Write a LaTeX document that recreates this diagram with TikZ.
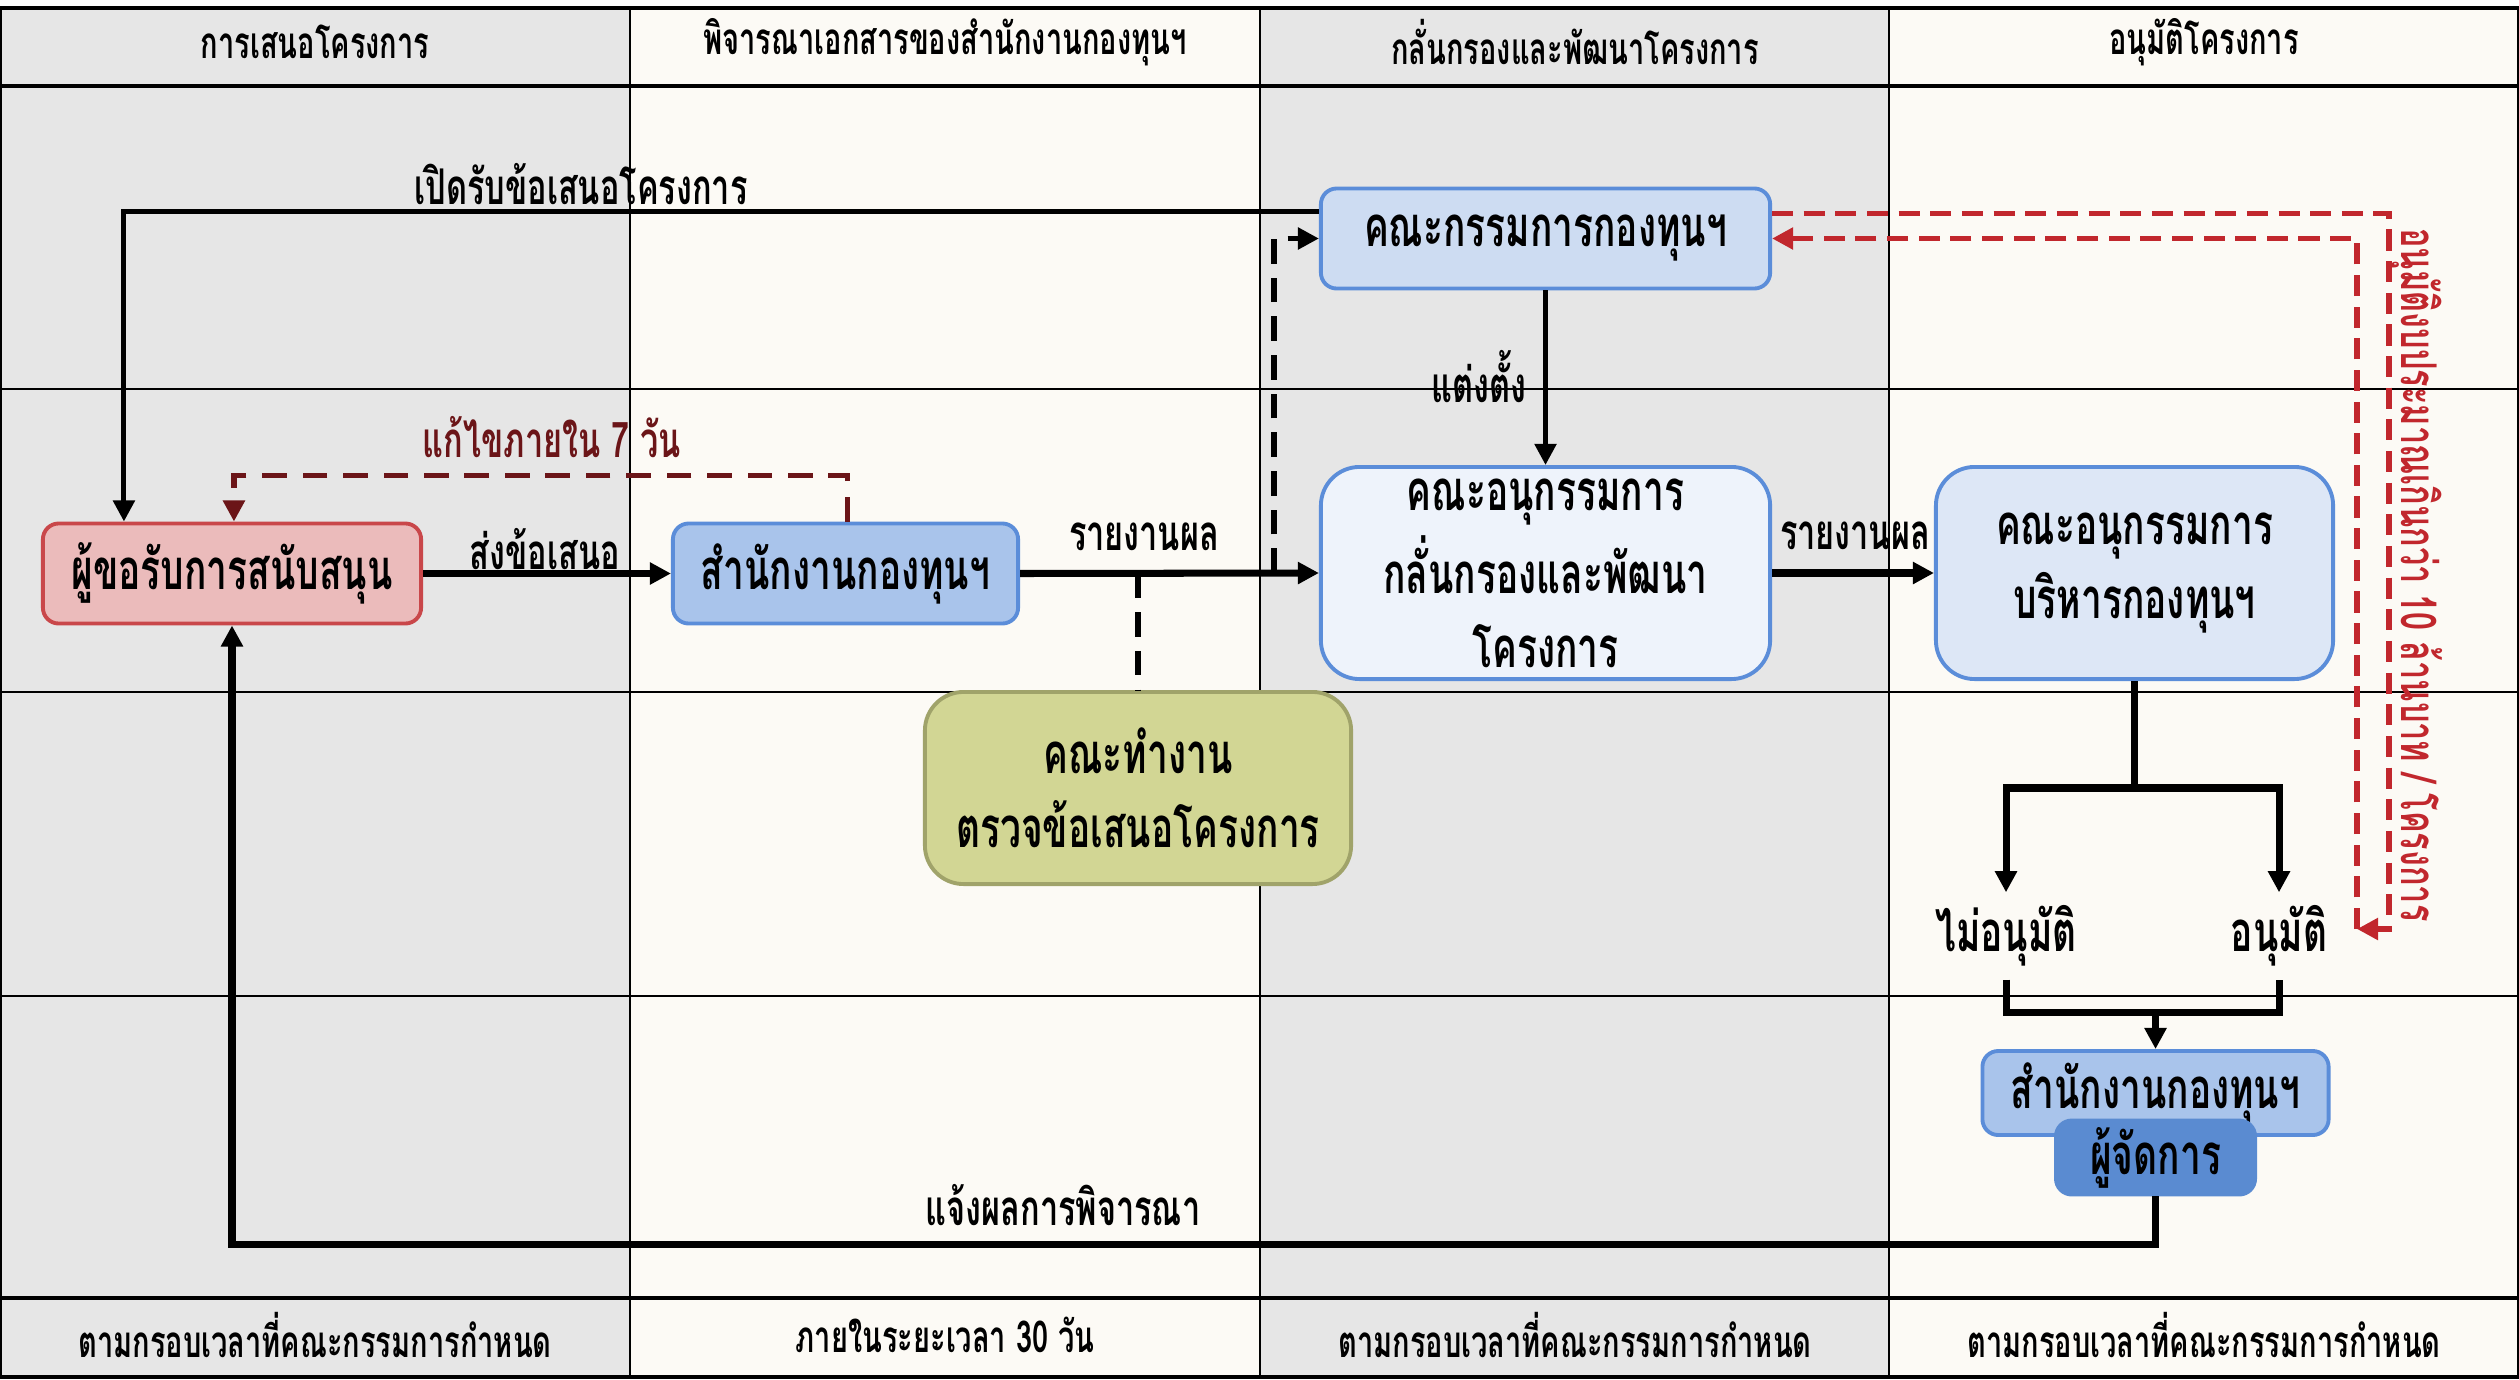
\documentclass[tikz,border=0pt]{standalone}
\usepackage{fontspec}
\setmainfont[Script=Thai, FakeStretch=0.66]{Loma}
\usetikzlibrary{arrows.meta,calc}
\definecolor{bggray}{HTML}{E6E6E6}
\definecolor{bgcream}{HTML}{FCFAF5}
\definecolor{reqfill}{HTML}{EBBBBB}
\definecolor{reqdraw}{HTML}{C9474A}
\definecolor{offfill}{HTML}{A9C4EB}
\definecolor{offdraw}{HTML}{5B8DD9}
\definecolor{comfill}{HTML}{CDDCF2}
\definecolor{subfillA}{HTML}{EEF3FB}
\definecolor{subfillB}{HTML}{DDE7F6}
\definecolor{workfill}{HTML}{D2D694}
\definecolor{workdraw}{HTML}{A0A36A}
\definecolor{mgrfill}{HTML}{5A8BD1}
\definecolor{redline}{HTML}{C1272D}
\definecolor{darkred}{HTML}{6B1518}
\tikzset{
  box/.style={draw, line width=1.1pt, align=center, inner sep=0pt, font=\bfseries\fontsize{16}{19}\selectfont},
  smallbox/.style={box, rounded corners=4.5pt},
  bigbox/.style={box, rounded corners=11pt},
  lbl/.style={font=\bfseries\fontsize{14}{17}\selectfont, inner sep=0pt},
  hdr/.style={font=\bfseries\fontsize{12.5}{14}\selectfont, inner sep=0pt},
  tip/.style={-{Triangle[length=6pt,width=6pt]}},
  flow/.style={line width=2pt},
  thinflow/.style={line width=1.4pt},
  blkdash/.style={line width=1.6pt, dash pattern=on 7pt off 4pt},
  fixdash/.style={line width=1.6pt, dash pattern=on 7pt off 4.5pt, draw=darkred},
  reddash/.style={line width=1.6pt, dash pattern=on 6pt off 3pt, draw=redline},
  grid/.style={line width=0.7pt},
}
\begin{document}
\begin{tikzpicture}[x=0.01cm, y=-0.01cm]
\useasboundingbox (0,0) rectangle (2519,1379);
% lane backgrounds
\fill[bggray] (0,8) rectangle (630,1377);
\fill[bgcream] (630,8) rectangle (1260,1377);
\fill[bggray] (1260,8) rectangle (1889,1377);
\fill[bgcream] (1889,8) rectangle (2519,1377);
% grid
\foreach \yy in {389,692,996} \draw[grid] (0,\yy) -- (2519,\yy);
\draw[line width=1.1pt] (0,86) -- (2519,86);
\draw[line width=1.1pt] (0,1298) -- (2519,1298);
\foreach \xx in {630,1260,1889} \draw[grid] (\xx,8) -- (\xx,1377);
\draw[line width=1.3pt] (0,8) rectangle (2519,1377);
% headers
\node[hdr] (h1) at (315,42) {การเสนอโครงการ};
\node[hdr] (h2) at (945,42) {พิจารณาเอกสารของสำนักงานกองทุนฯ};
\node[hdr] (h3) at (1575,42) {กลั่นกรองและพัฒนาโครงการ};
\node[hdr] (h4) at (2204,42) {อนุมัติโครงการ};
% footers
\node[hdr] (f1) at (315,1335) {ตามกรอบเวลาที่คณะกรรมการกำหนด};
\node[hdr] (f2) at (945,1335) {ภายในระยะเวลา 30 วัน};
\node[hdr] (f3) at (1575,1335) {ตามกรอบเวลาที่คณะกรรมการกำหนด};
\node[hdr] (f4) at (2204,1335) {ตามกรอบเวลาที่คณะกรรมการกำหนด};
% nodes
\node[smallbox, fill=reqfill, draw=reqdraw, minimum width=3.78cm, minimum height=1cm] (req) at (232,573.5) {ผู้ขอรับการสนับสนุน};
\node[smallbox, fill=offfill, draw=offdraw, minimum width=3.45cm, minimum height=1cm] (off1) at (845.5,573.5) {สำนักงานกองทุนฯ};
\node[smallbox, fill=comfill, draw=offdraw, minimum width=4.49cm, minimum height=1cm] (comm) at (1545.5,238.5) {คณะกรรมการกองทุนฯ};
\node[bigbox, fill=subfillA, draw=offdraw, minimum width=4.49cm, minimum height=2.12cm] (sub1) at (1545.5,573) {คณะอนุกรรมการ\\[2pt]กลั่นกรองและพัฒนา\\[2pt]โครงการ};
\node[bigbox, fill=subfillB, draw=offdraw, minimum width=3.97cm, minimum height=2.12cm] (sub2) at (2134.5,573) {คณะอนุกรรมการ\\[2pt]บริหารกองทุนฯ};
\node[bigbox, fill=workfill, draw=workdraw, minimum width=4.26cm, minimum height=1.92cm] (work) at (1138,788) {คณะทำงาน\\[2pt]ตรวจข้อเสนอโครงการ};
\node[smallbox, fill=offfill, draw=offdraw, minimum width=3.46cm, minimum height=0.84cm] (off2) at (2155.5,1093) {\raisebox{4pt}{สำนักงานกองทุนฯ}};
\node[smallbox, fill=mgrfill, draw=mgrfill, minimum width=1.99cm, minimum height=0.74cm] (mgr) at (2155.5,1157.5) {ผู้จัดการ};
% decision labels
\node[lbl, font=\bfseries\fontsize{16}{19}\selectfont, minimum height=0.86cm] (no) at (2006,936) {ไม่อนุมัติ};
\node[lbl, font=\bfseries\fontsize{16}{19}\selectfont, minimum height=0.86cm] (yes) at (2279,936) {อนุมัติ};
% connector labels
\node[lbl] (lopen) at (581,184) {เปิดรับข้อเสนอโครงการ};
\node[lbl, text=darkred] (lfix) at (552,437) {แก้ไขภายใน 7 วัน};
\node[lbl] (lsend) at (545,549) {ส่งข้อเสนอ};
\node[lbl] (lrep1) at (1144,537) {รายงานผล};
\node[lbl] (lapp) at (1479,377) {แต่งตั้ง};
\node[lbl] (lrep2) at (1855,536) {รายงานผล};
\node[lbl] (lnotify) at (1063,1205) {แจ้งผลการพิจารณา};
\node[lbl, text=redline, rotate=-90] (lbudget) at (2416,575) {อนุมัติงบประมาณเกินกว่า 10 ล้านบาท / โครงการ};
% connectors
\draw[thinflow, tip] ($(comm.west)+(0,-27)$) -| ($(req.north west)+(83,0)$);
\draw[fixdash, tip] ($(off1.north)+(2,0)$) -- ++(0,-46) -| ($(req.north west)+(193,0)$);
\draw[flow, tip] (req.east) -- (off1.west);
\draw[flow, tip] (off1.east) -- (sub1.west);
\draw[blkdash] (work.north |- off1.east) -- (work.north);
\coordinate (split) at ($(sub1.west)+(-45,0)$);
\draw[blkdash, tip] (split) |- (comm.west);
\draw[thinflow, tip] (comm.south) -- (sub1.north);
\draw[flow, tip] (sub1.east) -- (sub2.west);
\coordinate (branch) at ($(sub2.south)+(0,107)$);
\draw[flow] (sub2.south) -- (branch);
\draw[flow, tip] (branch) -| (no.north);
\draw[flow, tip] (branch) -| (yes.north);
\coordinate (merge) at ($(off2.north)+(0,-37)$);
\draw[flow] (no.south) |- (merge) -| (yes.south);
\draw[flow, tip] (merge) -- (off2.north);
\draw[flow, tip] (mgr.south) -- ++(0,48) -| (req.south);
\coordinate (rtip) at (2357,929);
\draw[reddash, tip] ($(comm.east)+(0,-25)$) -- ++(617,0) |- (rtip);
\draw[reddash, tip] (rtip) |- (comm.east);
\end{tikzpicture}
\end{document}
